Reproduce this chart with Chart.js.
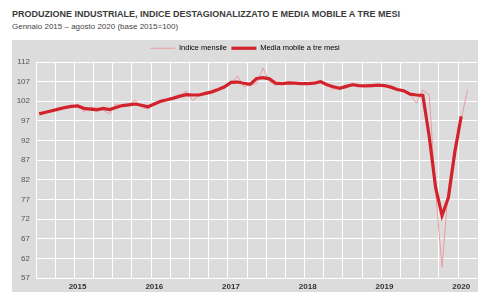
<!DOCTYPE html>
<html>
<head>
<meta charset="utf-8">
<script src="https://cdn.jsdelivr.net/npm/chart.js@4.4.1/dist/chart.umd.min.js"></script>
<style>
  html, body { margin: 0; padding: 0; background: #ffffff; width: 478px; height: 292px; overflow: hidden; }
  #title { position: absolute; left: 12px; top: 9px; font: bold 9px "Liberation Sans", Arial, sans-serif; color: #3a3a3a; white-space: nowrap; }
  #sub { position: absolute; left: 12px; top: 22px; font: 8px "Liberation Sans", Arial, sans-serif; color: #444; white-space: nowrap; }
  #panel { position: absolute; left: 12px; top: 40px; width: 466px; height: 252px; background: #dcdcdc; }
  canvas { display: block; }
</style>
</head>
<body>
<div id="title">PRODUZIONE INDUSTRIALE, INDICE DESTAGIONALIZZATO E MEDIA MOBILE A TRE MESI</div>
<div id="sub">Gennaio 2015 – agosto 2020 (base 2015=100)</div>
<div id="panel"><canvas id="c" width="466" height="252"></canvas></div>
<script>
// Years shown on the x axis (label placed at July of each year)
const years = ["2015", "2016", "2017", "2018", "2019", "2020"];
// Month slots Jan 2015 .. Sep 2020 (axis runs one slot past the last data month)
const monthNames = ["gen","feb","mar","apr","mag","giu","lug","ago","set","ott","nov","dic"];
const months = [];
for (const y of years) for (const m of monthNames) months.push(m + " " + y);
months.length = 69;

// Indice mensile (Jan 2015 - Aug 2020)
const indiceMensile = [
  98.9, 99.3, 99.5, 100.2, 100.4, 100.5, 101.1, 99.3, 100.5, 100.3, 99.8, 98.7,
  101.3, 100.8, 101.1, 102.3, 100.4, 100.0, 101.5, 102.2, 102.3, 102.9, 103.3, 104.6,
  102.2, 103.5, 104.1, 104.3, 104.9, 105.9, 106.5, 108.5, 105.7, 106.2, 106.5, 110.5,
  107.0, 106.0, 106.7, 106.4, 106.8, 106.3, 106.4, 106.7, 107.3, 106.2, 105.0, 105.6,
  105.3, 106.7, 106.0, 105.8, 106.1, 106.3, 105.7, 105.4, 105.1, 104.3, 103.8, 101.5,
  104.9, 103.6, 79.0, 59.7, 80.0, 91.0, 97.5, 104.9
];
// Media mobile a tre mesi (Jan 2015 - Jul 2020)
const mediaMobile = [
  98.8, 99.2, 99.6, 100.0, 100.4, 100.7, 100.8, 100.2, 100.0, 99.8, 100.2, 99.9,
  100.4, 100.9, 101.1, 101.3, 101.0, 100.6, 101.3, 102.0, 102.4, 102.8, 103.3, 103.7,
  103.6, 103.6, 104.0, 104.4, 105.0, 105.7, 106.8, 106.9, 106.6, 106.3, 107.8, 108.0,
  107.7, 106.6, 106.5, 106.7, 106.6, 106.5, 106.5, 106.6, 107.0, 106.2, 105.7, 105.3,
  105.8, 106.2, 106.0, 105.9, 106.0, 106.1, 106.0, 105.6, 105.0, 104.7, 103.8, 103.6,
  103.5, 93.0, 80.0, 72.9, 77.5, 89.0, 98.2
];
// Y axis ticks
const yMin = 57, yMax = 112, yStep = 5;

new Chart(document.getElementById("c"), {
  type: "line",
  data: {
    labels: months,
    datasets: [
      { label: "Indice mensile", data: indiceMensile, borderColor: "#eb9aa1", backgroundColor: "#eb9aa1",
        borderWidth: 1, pointRadius: 0, tension: 0, order: 2 },
      { label: "Media mobile a tre mesi", data: mediaMobile, borderColor: "#d2232d", backgroundColor: "#d2232d",
        borderWidth: 3.2, pointRadius: 0, tension: 0, order: 1 }
    ]
  },
  options: {
    responsive: false,
    animation: false,
    layout: { padding: { left: 0, right: 0, top: 0, bottom: 0 } },
    plugins: {
      tooltip: { enabled: false },
      legend: {
        display: true,
        position: "top",
        align: "center",
        labels: {
          usePointStyle: true,
          pointStyle: "line",
          pointStyleWidth: 25,
          boxHeight: 6,
          padding: 4.5,
          color: "#333",
          font: { family: "'Liberation Sans', Arial, sans-serif", size: 7.5 },
          generateLabels(chart) {
            return chart.data.datasets.map((ds, i) => ({
              text: ds.label,
              strokeStyle: ds.borderColor,
              fillStyle: ds.borderColor,
              lineWidth: ds.borderWidth,
              pointStyle: "line",
              datasetIndex: i,
              hidden: false
            }));
          }
        }
      }
    },
    scales: {
      x: {
        type: "category",
        offset: true,
        border: { display: false },
        grid: {
          offset: true,
          drawTicks: false,
          color: (ctx) => (ctx.index % 3 === 0 ? "#ffffff" : "rgba(0,0,0,0)"),
          lineWidth: 1
        },
        ticks: {
          autoSkip: false,
          maxRotation: 0,
          padding: 4,
          color: "#333",
          font: { family: "'Liberation Sans', Arial, sans-serif", size: 8, weight: "bold" },
          callback: (v, i) => (i % 12 === 6 ? years[Math.floor(i / 12)] : "")
        },
        afterFit: (s) => { s.height = 14; }
      },
      y: {
        min: yMin, max: yMax,
        border: { display: false },
        grid: { color: "#ffffff", lineWidth: 1, drawTicks: false },
        ticks: {
          stepSize: yStep,
          padding: 6,
          color: "#555",
          font: { family: "'Liberation Sans', Arial, sans-serif", size: 8 }
        },
        afterFit: (s) => { s.width = 24; }
      }
    }
  }
});
</script>
</body>
</html>
